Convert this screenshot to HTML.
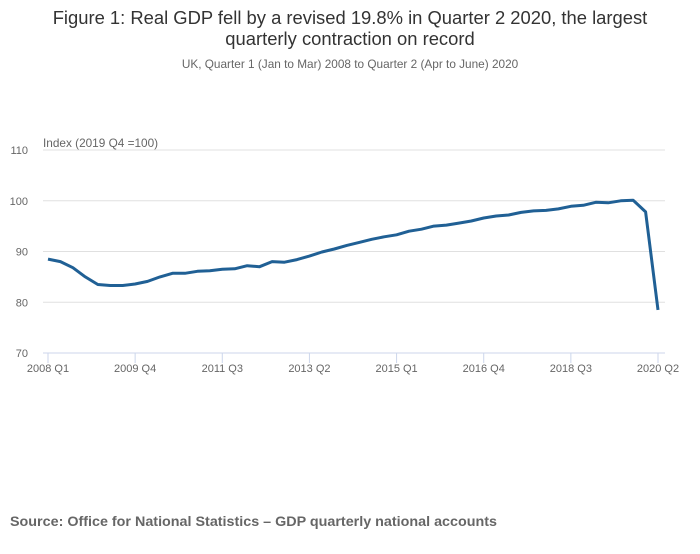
<!DOCTYPE html>
<html><head><meta charset="utf-8"><style>
body{margin:0;background:#fff;font-family:"Liberation Sans",sans-serif;}
svg text{font-family:"Liberation Sans",sans-serif;}
</style></head><body>
<svg width="700" height="549">
<text x="350" y="24" text-anchor="middle" font-size="18.4" fill="#333">Figure 1: Real GDP fell by a revised 19.8% in Quarter 2 2020, the largest</text>
<text x="350" y="45" text-anchor="middle" font-size="18.4" fill="#333">quarterly contraction on record</text>
<text x="350" y="68" text-anchor="middle" font-size="11.8" fill="#666">UK, Quarter 1 (Jan to Mar) 2008 to Quarter 2 (Apr to June) 2020</text>
<text x="43" y="147" font-size="11.8" fill="#666">Index (2019 Q4 =100)</text>
<g id="grid"></g><g id="xaxis"></g>
<path id="line" fill="none" stroke="#206095" stroke-width="3" stroke-linejoin="round"/>
<text x="10" y="526" font-size="13.5" font-weight="bold" fill="#666" textLength="487" lengthAdjust="spacingAndGlyphs">Source: Office for National Statistics – GDP quarterly national accounts</text>
</svg>
<script>
const values=[88.5,88.0,86.8,85.0,83.5,83.3,83.3,83.6,84.1,85.0,85.7,85.7,86.1,86.2,86.5,86.6,87.2,87.0,88.0,87.9,88.4,89.1,89.9,90.5,91.2,91.8,92.4,92.9,93.3,94.0,94.4,95.0,95.2,95.6,96.0,96.6,97.0,97.2,97.7,98.0,98.1,98.4,98.9,99.1,99.7,99.6,100.0,100.1,97.8,78.5];
const yTicks=[70,80,90,100,110];
const xTickLabels=["2008 Q1","2009 Q4","2011 Q3","2013 Q2","2015 Q1","2016 Q4","2018 Q3","2020 Q2"];
const xTickEvery=7;
const NS="http://www.w3.org/2000/svg";
const x=i=>48+i*(610/(values.length-1));
const y=v=>353-(v-70)*(203/40);
const grid=document.getElementById('grid');
yTicks.forEach(t=>{
 if(t>70){const l=document.createElementNS(NS,'line');
 l.setAttribute('x1',43);l.setAttribute('x2',665);l.setAttribute('y1',y(t));l.setAttribute('y2',y(t));
 l.setAttribute('stroke','#e0e0e0');
 
 
 grid.appendChild(l);}
 const tx=document.createElementNS(NS,'text');
 tx.setAttribute('x',28);tx.setAttribute('y',y(t)+4);tx.setAttribute('text-anchor','end');
 tx.setAttribute('font-size','11');tx.setAttribute('fill','#666');tx.textContent=t;
 
 
 grid.appendChild(tx);
});
const xa=document.getElementById('xaxis');
const base=document.createElementNS(NS,'line');
base.setAttribute('x1',43);base.setAttribute('x2',665);base.setAttribute('y1',353);base.setAttribute('y2',353);base.setAttribute('stroke','#ccd6eb');


xa.appendChild(base);
xTickLabels.forEach((lab,k)=>{
 const xi=x(k*xTickEvery);
 const tk=document.createElementNS(NS,'line');
 tk.setAttribute('x1',xi);tk.setAttribute('x2',xi);tk.setAttribute('y1',353);tk.setAttribute('y2',363);tk.setAttribute('stroke','#ccd6eb');
 
 
 xa.appendChild(tk);
 const tx=document.createElementNS(NS,'text');
 tx.setAttribute('x',xi);tx.setAttribute('y',372);tx.setAttribute('text-anchor','middle');
 tx.setAttribute('font-size','11');tx.setAttribute('fill','#666');tx.textContent=lab;
 
 
 xa.appendChild(tx);
});
document.getElementById('line').setAttribute('d',values.map((v,i)=>(i?'L':'M')+x(i).toFixed(1)+' '+y(v).toFixed(1)).join(' '));
</script>
</body></html>
